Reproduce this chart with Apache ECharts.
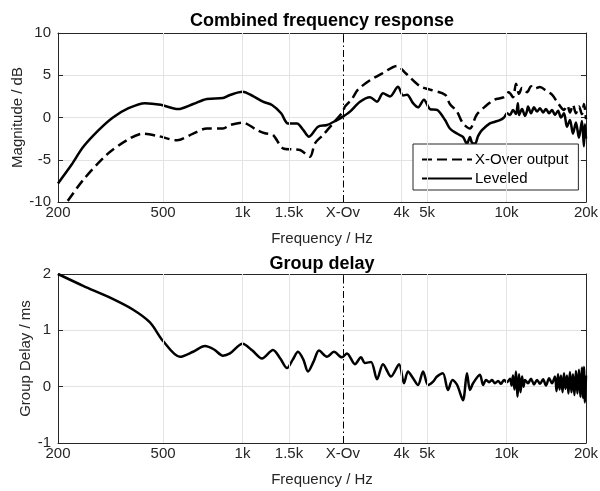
<!DOCTYPE html>
<html>
<head>
<meta charset="utf-8">
<script src="https://cdn.jsdelivr.net/npm/echarts@6/dist/echarts.min.js"></script>
<style>html,body{margin:0;padding:0;background:#fff;}#c{width:600px;height:491px;}</style>
</head>
<body>
<div id="c"></div>
<script>
// ---- data ----
const xTickValues = [200, 500, 1000, 1500, 2400, 4000, 5000, 10000, 20000];
const xTickLabels = ['200', '500', '1k', '1.5k', 'X-Ov', '4k', '5k', '10k', '20k'];
const gridFreqs = [500, 1000, 1500, 4000, 5000, 10000];
const xoverFreq = 2400;

const levFreq = [200,225,249,285,323,370,427,490,570,650,733,843,896,1000,1100,1195,1293,1400,1486,1608,1700,1785,1932,2089,2280,2400,2553,2786,3040,3232,3405,3620,3880,4055,4198,4424,4620,4865,5130,5455,5850,6100,6490,6840,7080,7270,7400,7600,7800,8070,8650,9040,9440,9780,10040,10310,10580,10860,11040,11150,11450,11750,11960,12060,12380,12710,13050,13390,13750,14110,14490,14870,15260,15670,16080,16510,16940,17390,17850,18320,18810,19300,19640,19820,20000];
const levDb   = [-7.8,-5.6,-3.5,-1.5,0.0,1.1,1.7,1.5,1.0,1.6,2.2,2.3,2.66,3.05,2.5,1.87,1.48,0.5,-0.7,-0.7,-1.5,-2.27,-1.09,-0.89,-0.3,0.1,0.69,1.87,2.4,1.87,2.86,2.5,3.65,2.6,2.7,1.7,1.2,2.1,1.0,0.9,-0.3,-1.3,-1.9,-2.3,-3.1,-2.3,-3.0,-3.1,-2.2,-1.5,-0.7,-0.5,-0.3,0.0,0.5,0.3,0.9,0.4,1.7,0.3,1.0,0.2,0.8,1.3,0.5,1.2,0.7,1.1,0.6,1.0,0.5,0.9,0.3,0.8,0.0,0.5,-1.1,-0.3,-1.9,-0.6,-2.4,-0.4,-3.4,-0.8,-2.5];

const xoFreq = [200,216,249,306,364,420,480,565,650,733,843,896,1000,1135,1216,1304,1424,1539,1651,1801,1881,2017,2202,2400,2444,2598,2736,3040,3375,3846,4160,4700,5130,5850,6100,6490,6840,7270,7700,8300,9000,9780,10200,10580,10860,11150,11450,11960,12380,12710,13390,14110,14870,15670,16500,17000,17390,17850,18320,18810,19300,19640,20000];
const xoDb   = [-11.2,-10.0,-7.4,-4.4,-2.7,-1.9,-2.2,-2.7,-1.9,-1.3,-1.3,-0.9,-0.6,-1.48,-1.87,-2.07,-3.65,-3.77,-3.85,-4.64,-3.05,-2.07,-0.69,0.7,1.3,2.2,3.3,4.4,5.2,6.1,5.2,3.7,3.3,2.7,1.6,0.7,-0.7,-1.3,0.3,1.3,2.1,2.4,3.0,2.4,4.0,2.8,3.5,3.0,3.7,3.4,3.6,3.2,2.7,1.7,0.9,1.4,0.6,1.5,0.5,1.3,0.4,1.6,-0.2];

const gdFreq = [200,249,315,384,446,500,579,650,721,780,843,896,1000,1090,1185,1304,1390,1474,1550,1622,1700,1770,1860,1948,2089,2219,2380,2487,2667,2810,2910,3068,3232,3405,3650,3916,4090,4233,4425,4620,4830,5045,5270,5455,5740,6000,6240,6500,6840,7080,7270,7470,7930,8150,8360,8590,8810,9040,9290,9530,9780,10040,10310,10450,10580,10720,10860,11000,11150,11300,11450,11600,11750,12060,12380,12710,13050,13390,13750,14110,14490,14870,15260,15470,15670,15880,16080,16300,16510,16720,16940,17160,17390,17620,17850,18080,18320,18560,18810,19050,19300,19470,19640,19820,20000];
const gdMs   = [2.0,1.79,1.58,1.37,1.14,0.81,0.53,0.62,0.72,0.66,0.55,0.59,0.76,0.64,0.50,0.65,0.50,0.33,0.48,0.62,0.48,0.27,0.45,0.64,0.53,0.62,0.52,0.59,0.40,0.52,0.42,0.44,0.13,0.40,0.18,0.40,0.06,0.27,0.15,0.03,0.27,0.03,0.09,0.18,0.24,-0.06,0.12,0.03,-0.24,0.24,-0.06,0.06,0.21,0.03,0.12,0.08,0.12,0.06,0.10,0.05,0.12,0.08,0.14,0.02,0.20,-0.05,0.27,-0.18,0.22,-0.10,0.18,0.0,0.12,0.06,0.14,0.04,0.12,0.05,0.13,0.02,0.15,0.06,0.18,-0.08,0.22,-0.05,0.20,-0.10,0.24,-0.04,0.20,-0.12,0.26,-0.10,0.22,-0.15,0.28,-0.12,0.30,-0.18,0.34,-0.20,0.35,-0.28,0.20];

// ---- chart ----
const zip = (a, b) => a.map((v, i) => [v, b[i]]);
const FONT = 'Liberation Sans, Arial, sans-serif';
const AX = '#262626';
const GRIDC = '#e3e3e3';
const FS = 15;
const labelMap = {};
xTickValues.forEach((v, i) => labelMap[v] = xTickLabels[i]);

function xAx(gridIndex, top, withName) {
  return {
    type: 'log', logBase: 10, min: 200, max: 20000, gridIndex,
    position: top ? 'top' : 'bottom',
    name: withName ? 'Frequency / Hz' : '', nameLocation: 'middle', nameGap: 29.5, nameMoveOverlap: false,
    nameTextStyle: { fontFamily: FONT, fontSize: FS, color: AX },
    axisLine: { show: true, onZero: false, lineStyle: { color: AX, width: 1 } },
    axisTick: { show: true, inside: true, length: 5, customValues: xTickValues, lineStyle: { color: AX } },
    axisLabel: { show: !top, customValues: xTickValues, formatter: v => labelMap[Math.round(v)] || '', fontFamily: FONT, fontSize: FS, color: AX, margin: 3 },
    splitLine: { show: false }, minorTick: { show: false }
  };
}
function yAx(gridIndex, right, min, max, interval, name, gap) {
  return {
    type: 'value', gridIndex, min, max, interval,
    position: right ? 'right' : 'left',
    name: right ? '' : name, nameLocation: 'middle', nameGap: gap, nameMoveOverlap: false,
    nameTextStyle: { fontFamily: FONT, fontSize: FS, color: AX },
    axisLine: { show: true, onZero: false, lineStyle: { color: AX, width: 1 } },
    axisTick: { show: true, inside: true, length: 5, lineStyle: { color: AX } },
    axisLabel: { show: !right, fontFamily: FONT, fontSize: FS, color: AX, margin: 7 },
    splitLine: { show: !right, lineStyle: { color: GRIDC, width: 1 } }
  };
}
function vLines() {
  const d = gridFreqs.map(f => ({ xAxis: f, lineStyle: { color: GRIDC, width: 1, type: 'solid' } }));
  d.push({ xAxis: xoverFreq, lineStyle: { color: '#000', width: 1, type: [7, 3, 1.5, 3] } });
  return { silent: true, symbol: 'none', label: { show: false }, data: d, animation: false };
}

const chart = echarts.init(document.getElementById('c'), null, { renderer: 'canvas' });
chart.setOption({
  animation: false,
  backgroundColor: '#fff',
  title: [
    { text: 'Combined frequency response', left: 317, top: 7, textAlign: 'center', textStyle: { fontFamily: FONT, fontSize: 18, fontWeight: 'bold', color: '#000' } },
    { text: 'Group delay', left: 317, top: 250, textAlign: 'center', textStyle: { fontFamily: FONT, fontSize: 18, fontWeight: 'bold', color: '#000' } }
  ],
  grid: [
    { left: 58, top: 33, width: 528, height: 169, outerBoundsMode: 'none', containLabel: false },
    { left: 58, top: 274, width: 528, height: 169, outerBoundsMode: 'none', containLabel: false }
  ],
  legend: {
    left: 413, top: 144, orient: 'vertical',
    backgroundColor: '#fff', borderColor: AX, borderWidth: 1, borderRadius: 0,
    padding: [8, 10, 4, 8], itemWidth: 50, itemHeight: 14, itemGap: 4,
    itemStyle: { opacity: 0, color: 'rgba(0,0,0,0)', borderWidth: 0 },
    textStyle: { fontFamily: FONT, fontSize: FS, color: '#000', padding: [0, 0, 0, -2] },
    data: ['X-Over output', 'Leveled']
  },
  xAxis: [xAx(0, false, true), xAx(0, true, false), xAx(1, false, true), xAx(1, true, false)],
  yAxis: [yAx(0, false, -10, 10, 5, 'Magnitude / dB', 33), yAx(0, true, -10, 10, 5, '', 0), yAx(1, false, -1, 2, 1, 'Group Delay / ms', 25), yAx(1, true, -1, 2, 1, '', 0)],
  series: [
    { name: 'X-Over output', type: 'line', xAxisIndex: 0, yAxisIndex: 0, data: zip(xoFreq, xoDb), symbol: 'none', smooth: 0.3, clip: true,
      lineStyle: { color: '#000', width: 2.5, type: [10, 5] }, itemStyle: { color: '#000' }, markLine: vLines(), z: 3 },
    { name: 'Leveled', type: 'line', xAxisIndex: 0, yAxisIndex: 0, data: zip(levFreq, levDb), symbol: 'none', smooth: 0.3, clip: true,
      lineStyle: { color: '#000', width: 2.5 }, itemStyle: { color: '#000' }, z: 3 },
    { name: 'Group delay', type: 'line', xAxisIndex: 2, yAxisIndex: 2, data: zip(gdFreq, gdMs), symbol: 'none', smooth: 0.3, clip: true,
      lineStyle: { color: '#000', width: 2.5 }, itemStyle: { color: '#000' }, markLine: vLines(), z: 3 }
  ]
});
</script>
</body>
</html>
